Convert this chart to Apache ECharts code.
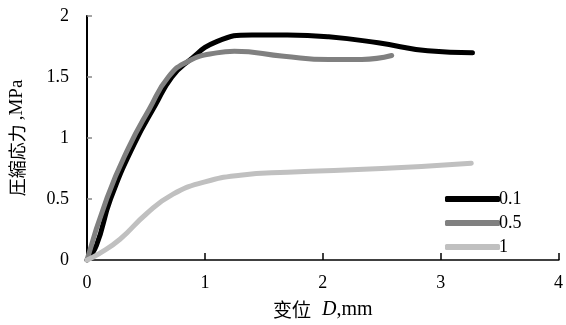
<!DOCTYPE html>
<html>
<head>
<meta charset="utf-8">
<script src="https://cdn.jsdelivr.net/npm/echarts@6/dist/echarts.min.js"></script>
<style>
  html, body { margin: 0; padding: 0; background: #fff; }
  #chart { width: 566px; height: 325px; }
</style>
</head>
<body>
<div id="chart"></div>
<script>
// Compression stress vs displacement for three strain rates
const seriesNames = ['0.1', '0.5', '1'];
const seriesColors = ['#000000', '#808080', '#c0c0c0'];

const curve01 = [
  [0, 0], [0.08, 0.12], [0.2, 0.5], [0.4, 0.95], [0.58, 1.27],
  [0.72, 1.5], [0.86, 1.63], [1.1, 1.79], [1.4, 1.845], [1.7, 1.845],
  [2.05, 1.83], [2.47, 1.78], [2.89, 1.715], [3.27, 1.698]
];
const curve05 = [
  [0, 0], [0.17, 0.51], [0.35, 0.915], [0.53, 1.24], [0.69, 1.5],
  [0.86, 1.63], [1.1, 1.698], [1.25, 1.711], [1.67, 1.67], [2.05, 1.644],
  [2.33, 1.644], [2.585, 1.676]
];
const curve1 = [
  [0, 0], [0.1, 0.05], [0.28, 0.17], [0.5, 0.375], [0.73, 0.54],
  [1.0, 0.64], [1.3, 0.695], [1.7, 0.72], [2.5, 0.75], [3.26, 0.794]
];
const curves = [curve01, curve05, curve1];

const xTicks = { min: 0, max: 4, interval: 1 };
const yTicks = { min: 0, max: 2, interval: 0.5 };

const serif = '"Liberation Serif", "Times New Roman", serif';
const cjk = '"Noto Sans CJK JP", sans-serif';

const chart = echarts.init(document.getElementById('chart'));
chart.setOption({
  animation: false,
  backgroundColor: '#fff',
  grid: { left: 87, right: 5, top: 16, bottom: 62 },
  legend: {
    orient: 'vertical',
    left: 440,
    top: 185,
    itemWidth: 55,
    itemHeight: 6,
    itemGap: 6,
    icon: 'roundRect',
    textStyle: { color: '#000', fontSize: 18, fontFamily: serif, padding: [0, 0, 0, -6] },
    data: seriesNames
  },
  xAxis: [{
    type: 'value',
    min: xTicks.min, max: xTicks.max, interval: xTicks.interval,
    axisLine: { show: true, lineStyle: { color: '#000', width: 2 } },
    axisTick: { show: true, inside: true, length: 7, lineStyle: { color: '#000', width: 1.5 } },
    splitLine: { show: false },
    axisLabel: { color: '#000', fontSize: 18, fontFamily: serif, margin: 14 },
    name: '{a|变位}{i|D}{b|,mm}',
    nameLocation: 'middle',
    nameGap: 40,
    nameTextStyle: {
      rich: {
        a: { fontSize: 19, fontFamily: cjk, color: '#000' },
        i: { fontSize: 20, fontFamily: serif, fontStyle: 'italic', color: '#000', padding: [0, 0, 0, 11] },
        b: { fontSize: 20, fontFamily: serif, color: '#000' }
      }
    }
  }, {
    type: 'value', position: 'top',
    min: xTicks.min, max: xTicks.max,
    axisLine: { show: true, lineStyle: { color: '#555', width: 1.5 } },
    axisTick: { show: false }, axisLabel: { show: false }, splitLine: { show: false }
  }],
  yAxis: [{
    type: 'value',
    min: yTicks.min, max: yTicks.max, interval: yTicks.interval,
    axisLine: { show: true, lineStyle: { color: '#888', width: 1.5 } },
    axisTick: { show: true, inside: true, length: 5, lineStyle: { color: '#888', width: 1.5 } },
    splitLine: { show: false },
    axisLabel: { color: '#000', fontSize: 18, fontFamily: serif, margin: 18 },
    name: '{a|圧縮応力 }{b|,MPa}',
    nameLocation: 'middle',
    nameRotate: 90,
    nameGap: 60,
    nameTextStyle: {
      rich: {
        a: { fontSize: 18, fontFamily: cjk, color: '#000' },
        b: { fontSize: 19, fontFamily: serif, color: '#000' }
      }
    }
  }, {
    type: 'value', position: 'right',
    min: yTicks.min, max: yTicks.max,
    axisLine: { show: true, lineStyle: { color: '#000', width: 2 } },
    axisTick: { show: false }, axisLabel: { show: false }, splitLine: { show: false }
  }],
  series: curves.map((data, i) => ({
    name: seriesNames[i],
    type: 'line',
    data: data,
    smooth: 0.5,
    showSymbol: false,
    color: seriesColors[i],
    lineStyle: { width: 5, color: seriesColors[i], cap: 'round', join: 'round' }
  }))
});
</script>
</body>
</html>
